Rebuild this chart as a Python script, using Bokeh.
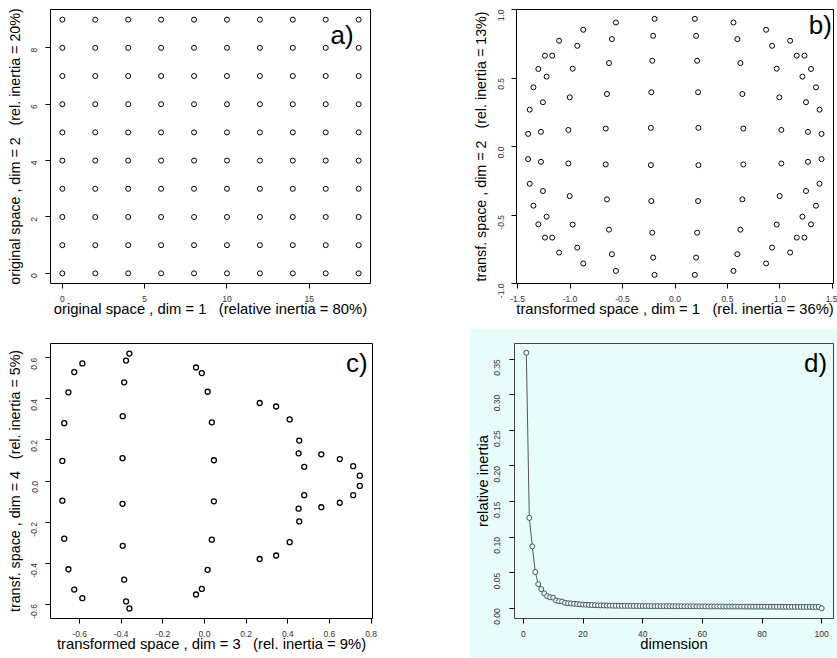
import math
from bokeh.plotting import figure
from bokeh.models import Range1d, FixedTicker, NumeralTickFormatter, Label
from bokeh.layouts import column, row
from bokeh.embed import file_html
from bokeh.resources import INLINE

# ---------------- data ----------------
# a) original grid
a_cols = [0, 2, 4, 6, 8, 10, 12, 14, 16, 18]
a_rows = [0, 1, 2, 3, 4, 5, 6, 7, 8, 9]

# b) transformed space dims 1-2, one list per column (rows top to bottom)
b_cols_x = [
    [-1.239, -1.302, -1.349, -1.384, -1.399, -1.399, -1.384, -1.349, -1.302, -1.239],
    [-1.104, -1.170, -1.223, -1.258, -1.277, -1.277, -1.258, -1.223, -1.170, -1.104],
    [-0.874, -0.931, -0.975, -1.003, -1.016, -1.016, -1.003, -0.975, -0.931, -0.874],
    [-0.563, -0.601, -0.629, -0.648, -0.660, -0.660, -0.648, -0.629, -0.601, -0.563],
    [-0.195, -0.208, -0.217, -0.226, -0.230, -0.230, -0.226, -0.217, -0.208, -0.195],
    [0.189, 0.201, 0.211, 0.220, 0.223, 0.223, 0.220, 0.211, 0.201, 0.189],
    [0.557, 0.594, 0.623, 0.642, 0.651, 0.651, 0.642, 0.623, 0.594, 0.557],
    [0.868, 0.925, 0.969, 0.994, 1.013, 1.013, 0.997, 0.969, 0.925, 0.868],
    [1.097, 1.160, 1.214, 1.248, 1.267, 1.267, 1.248, 1.214, 1.160, 1.097],
    [1.233, 1.296, 1.343, 1.377, 1.396, 1.396, 1.377, 1.343, 1.296, 1.233],
]
b_cols_y = [
    [0.663, 0.566, 0.432, 0.269, 0.092, -0.092, -0.272, -0.432, -0.568, -0.665],
    [0.772, 0.663, 0.510, 0.323, 0.107, -0.112, -0.325, -0.512, -0.665, -0.774],
    [0.852, 0.735, 0.568, 0.359, 0.121, -0.124, -0.362, -0.570, -0.738, -0.854],
    [0.905, 0.784, 0.609, 0.383, 0.131, -0.131, -0.386, -0.607, -0.786, -0.908],
    [0.932, 0.808, 0.626, 0.396, 0.136, -0.136, -0.398, -0.629, -0.811, -0.937],
    [0.932, 0.808, 0.626, 0.396, 0.136, -0.136, -0.398, -0.629, -0.811, -0.937],
    [0.905, 0.784, 0.609, 0.383, 0.131, -0.131, -0.386, -0.607, -0.786, -0.908],
    [0.852, 0.735, 0.568, 0.359, 0.121, -0.124, -0.362, -0.570, -0.738, -0.854],
    [0.772, 0.663, 0.510, 0.323, 0.107, -0.112, -0.325, -0.512, -0.665, -0.774],
    [0.663, 0.566, 0.432, 0.269, 0.092, -0.092, -0.272, -0.432, -0.568, -0.665],
]

# c) transformed space dims 3-4 (visible points)
c_x = [-0.587, -0.626, -0.654, -0.674, -0.683, -0.683, -0.674, -0.654, -0.626, -0.587,
       -0.361, -0.377, -0.386, -0.393, -0.394, -0.394, -0.393, -0.386, -0.377, -0.361,
       -0.041, -0.013, 0.015, 0.035, 0.045, 0.045, 0.035, 0.015, -0.013, -0.041,
       0.265, 0.344, 0.409, 0.455, 0.452, 0.479, 0.479, 0.452, 0.455, 0.409, 0.344, 0.265,
       0.561, 0.650, 0.714, 0.746, 0.746, 0.714, 0.650, 0.561]
c_y = [0.573, 0.531, 0.432, 0.282, 0.098, -0.096, -0.281, -0.430, -0.529, -0.571,
       0.621, 0.587, 0.481, 0.316, 0.111, -0.111, -0.316, -0.481, -0.587, -0.621,
       0.553, 0.526, 0.435, 0.286, 0.101, -0.099, -0.286, -0.433, -0.526, -0.553,
       0.380, 0.363, 0.300, 0.197, 0.135, 0.069, -0.069, -0.135, -0.197, -0.298, -0.363, -0.380,
       0.130, 0.107, 0.072, 0.026, -0.024, -0.069, -0.106, -0.128]

# d) relative inertia per dimension
d_dim = list(range(1, 101))
d_inertia = [0.359, 0.127, 0.087, 0.051, 0.034, 0.027, 0.021, 0.017, 0.0155, 0.015,
             0.011, 0.010, 0.0095, 0.0078, 0.0072, 0.0068, 0.0064, 0.0060, 0.0056, 0.0053,
             0.0050, 0.0048, 0.0046, 0.0044, 0.0042, 0.0041, 0.0040, 0.0039, 0.0038, 0.0037,
             0.0036, 0.0036, 0.0035, 0.0035, 0.0034, 0.0034, 0.0033, 0.0033, 0.0033, 0.0032,
             0.0032, 0.0032, 0.0031, 0.0031, 0.0031, 0.0030, 0.0030, 0.0030, 0.0030, 0.0029,
             0.0029, 0.0029, 0.0029, 0.0028, 0.0028, 0.0028, 0.0028, 0.0027, 0.0027, 0.0027,
             0.0027, 0.0026, 0.0026, 0.0026, 0.0026, 0.0026, 0.0025, 0.0025, 0.0025, 0.0025,
             0.0025, 0.0024, 0.0024, 0.0024, 0.0024, 0.0024, 0.0023, 0.0023, 0.0023, 0.0023,
             0.0023, 0.0022, 0.0022, 0.0022, 0.0022, 0.0022, 0.0021, 0.0021, 0.0021, 0.0021,
             0.0021, 0.0020, 0.0020, 0.0020, 0.0020, 0.0020, 0.0019, 0.0019, 0.0019, 0.0000]

# tick positions
a_xticks = [0, 5, 10, 15]
a_yticks = [0, 2, 4, 6, 8]
b_xticks = [-1.5, -1.0, -0.5, 0.0, 0.5, 1.0, 1.5]
b_yticks = [-1.0, -0.5, 0.0, 0.5, 1.0]
c_xticks = [-0.6, -0.4, -0.2, 0.0, 0.2, 0.4, 0.6, 0.8]
c_yticks = [-0.6, -0.4, -0.2, 0.0, 0.2, 0.4, 0.6]
d_xticks = [0, 20, 40, 60, 80, 100]
d_yticks = [0.0, 0.05, 0.10, 0.15, 0.20, 0.25, 0.30, 0.35]

SP = "\u00a0\u00a0\u00a0"
FONT = "Liberation Sans"
CYAN = "#e9fcfc"


def make_fig(w, h, bl, br, bt, bb, xr, yr, xlabel, ylabel, xt, yt, xfmt, yfmt,
             bg="white", outline="black", ylab_standoff=3, ylab_size="14.3px"):
    p = figure(width=w, height=h, x_range=Range1d(*xr), y_range=Range1d(*yr),
               output_backend="svg", toolbar_location=None,
               min_border_left=bl, min_border_right=br,
               min_border_top=bt, min_border_bottom=bb)
    p.background_fill_color = bg
    p.border_fill_color = bg
    p.outline_line_color = outline
    p.outline_line_width = 1
    p.grid.visible = False
    p.xaxis.ticker = FixedTicker(ticks=xt)
    p.yaxis.ticker = FixedTicker(ticks=yt)
    if xfmt:
        p.xaxis.formatter = NumeralTickFormatter(format=xfmt)
    if yfmt:
        p.yaxis.formatter = NumeralTickFormatter(format=yfmt)
    p.xaxis.axis_label = xlabel
    p.yaxis.axis_label = ylabel
    for ax in p.axis:
        ax.axis_line_color = None
        ax.major_tick_out = 5
        ax.major_tick_in = 0
        ax.minor_tick_out = 0
        ax.minor_tick_in = 0
        ax.major_tick_line_color = "black"
        ax.major_label_text_font = FONT
        ax.major_label_text_font_size = "8.5px"
        ax.major_label_text_color = "#333333"
        ax.axis_label_text_font = FONT
        ax.axis_label_text_font_style = "normal"
        ax.axis_label_text_color = "black"
    p.xaxis.major_label_standoff = 7
    p.xaxis.axis_label_text_font_size = "14.8px"
    p.xaxis.axis_label_standoff = -4
    p.yaxis.major_label_standoff = 11
    p.yaxis.major_label_orientation = math.pi / 2
    p.yaxis.axis_label_text_font_size = ylab_size
    p.yaxis.axis_label_standoff = ylab_standoff
    return p


def add_tag(p, x, y, t):
    p.add_layout(Label(x=x, y=y, text=t, text_align="right", text_baseline="top",
                       text_font=FONT, text_font_size="26px", text_color="black"))


# ---- panel a
pa = make_fig(469, 328, 50, 99, 6, 45, (-0.72, 18.72), (-0.36, 9.36),
              "original space , dim = 1" + SP + "(relative inertia = 80%)",
              "original space , dim = 2" + SP + "(rel. inertia = 20%)",
              a_xticks, a_yticks, None, None)
ax_pts, ay_pts = [], []
for yv in a_rows:
    for xv in a_cols:
        ax_pts.append(xv)
        ay_pts.append(yv)
pa.scatter(ax_pts, ay_pts, marker="circle", size=5, fill_color=None,
           line_color="black", line_width=1)
add_tag(pa, 17.7, 9.0, "a)")

# ---- panel b
pb = make_fig(368, 328, 46, 4, 9, 43, (-1.51, 1.51), (-1.0, 1.0),
              "transformed space , dim = 1" + SP + "(rel. inertia = 36%)",
              "transf. space , dim = 2" + SP + "(rel. inertia = 13%)",
              b_xticks, b_yticks, "0.0", "0.0")
bx_pts = [v for col in b_cols_x for v in col]
by_pts = [v for col in b_cols_y for v in col]
pb.scatter(bx_pts, by_pts, marker="circle", size=5, fill_color=None,
           line_color="black", line_width=1)
add_tag(pb, 1.495, 1.0, "b)")

# ---- panel c
pc = make_fig(469, 330, 50, 97, 12, 40, (-0.74, 0.807), (-0.67, 0.67),
              "transformed space , dim = 3" + SP + "(rel. inertia = 9%)",
              "transf. space , dim = 4" + SP + "(rel. inertia = 5%)",
              c_xticks, c_yticks, "0.0", "0.0")
pc.scatter(c_x, c_y, marker="circle", size=5, fill_color=None,
           line_color="black", line_width=1.3)
add_tag(pc, 0.784, 0.647, "c)")

# ---- panel d
pd = make_fig(368, 330, 45, 4, 15, 40, (-2.96, 103.96), (-0.0143, 0.372),
              "dimension", "relative inertia",
              d_xticks, d_yticks, None, "0.00", bg=CYAN, outline="#444444",
              ylab_standoff=-2, ylab_size="14.8px")
pd.yaxis.major_label_standoff = 12
pd.line(d_dim, d_inertia, line_color="#555555", line_width=1)
pd.scatter(d_dim, d_inertia, marker="circle", size=5, fill_color=CYAN,
           line_color="#4a5558", line_width=1)
add_tag(pd, 101.8, 0.365, "d)")

layout = column(row(pa, pb), row(pc, pd))
open("out.html", "w").write(file_html(layout, INLINE))
